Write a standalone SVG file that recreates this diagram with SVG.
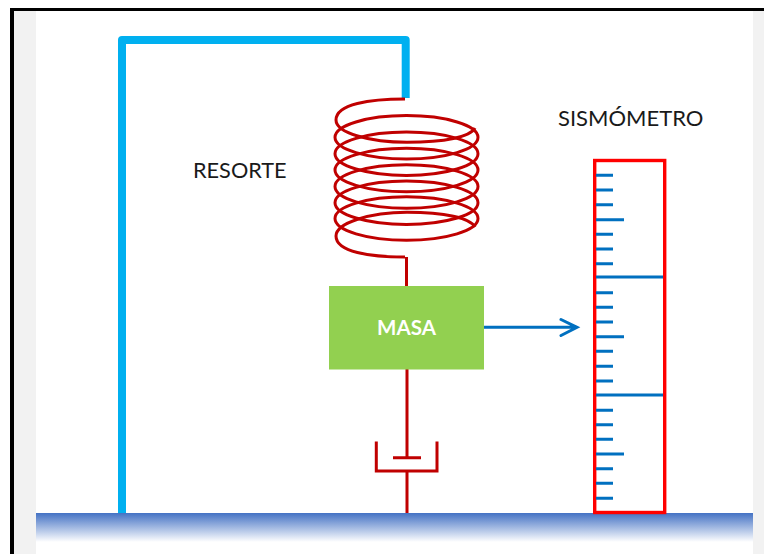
<svg xmlns="http://www.w3.org/2000/svg" width="764" height="554" viewBox="0 0 764 554">
<style>
.coil{fill:none;stroke:#C00000;stroke-width:3}
.tick{stroke:#0070C0;stroke-width:3;fill:none}
.lbl{font-family:"Lato","Liberation Sans",sans-serif;font-size:21.7px;fill:#1a1a1a}
</style>
<defs>
<linearGradient id="ground" x1="0" y1="0" x2="0" y2="1"><stop offset="0" stop-color="#4472C4"/><stop offset="1" stop-color="#4472C4" stop-opacity="0"/></linearGradient>
</defs>
<rect width="764" height="554" fill="#fff"/>
<g id="frame">
<rect x="14" y="11" width="22" height="543" fill="#F2F2F2"/>
<rect x="753" y="11" width="11" height="543" fill="#F2F2F2"/>
<rect x="10" y="8" width="754" height="3" fill="#000"/>
<rect x="10" y="8" width="4" height="546" fill="#000"/>
</g>
<g id="ground-node"><rect x="36" y="513" width="717" height="29" fill="url(#ground)"/></g>
<g id="connectors">
<path d="M122 513V40H405.7V98" fill="none" stroke="#00B0F0" stroke-width="8" stroke-linejoin="round"/>
<path d="M406.5 257V286M407 369V457.7M407 471V513" class="coil"/>
<path d="M484 327.3H576M561 319.5L577 327.3L561 335.5" class="tick" stroke-linecap="round" stroke-linejoin="miter"/>
</g>
<g id="resorte">
<path class="coil" d="M405 99C370 99 336 104 336 120C336 133 370 142.3 407 142.3C445 142.3 470 137 475 128"/>
<ellipse class="coil" cx="406.5" cy="137.3" rx="71.5" ry="21.7"/>
<ellipse class="coil" cx="406.5" cy="153.7" rx="71.5" ry="21.7"/>
<ellipse class="coil" cx="406.5" cy="170" rx="71.5" ry="21.7"/>
<ellipse class="coil" cx="406.5" cy="186.5" rx="71.5" ry="21.7"/>
<ellipse class="coil" cx="406.5" cy="202.7" rx="71.5" ry="21.7"/>
<ellipse class="coil" cx="406.5" cy="218.5" rx="71.5" ry="21.7"/>
<path class="coil" d="M405 257C370 257 336 252 336 236C336 223 370 212.3 407 212.3C445 212.3 470 218 475 227"/>
</g>
<g id="masa">
<rect x="329" y="286" width="155" height="83.5" fill="#92D050"/>
<text x="406.5" y="334.5" text-anchor="middle" font-family="Lato,'Liberation Sans',sans-serif" font-weight="700" font-size="20.5" fill="#fff">MASA</text>
</g>
<g id="amortiguador">
<path class="coil" d="M376.3 441.5V471H437V441.5M393 457.7H421"/>
</g>
<g id="sismometro">
<rect x="594.7" y="160.5" width="70" height="352" fill="none" stroke="#FF0000" stroke-width="3.4"/>
<path class="tick" d="M596 175.3H613M596 190H613M596 204.7H613M596 219.7H624M596 234.3H613M596 249H613M596 263.7H613M596 292.7H613M596 307.3H613M596 322H613M596 336.7H624M596 351.3H613M596 366.3H613M596 381H613M596 410.3H613M596 424.7H613M596 439.3H613M596 454H624M596 468.7H613M596 483.3H613M596 498.3H613"/>
<path class="tick" stroke-width="2.6" d="M596 277H663M596 395H663"/>
</g>
<g id="labels">
<text class="lbl" x="193" y="178">RESORTE</text>
<text class="lbl" x="558" y="126" style="font-size:22px">SISMÓMETRO</text>
</g>
</svg>
